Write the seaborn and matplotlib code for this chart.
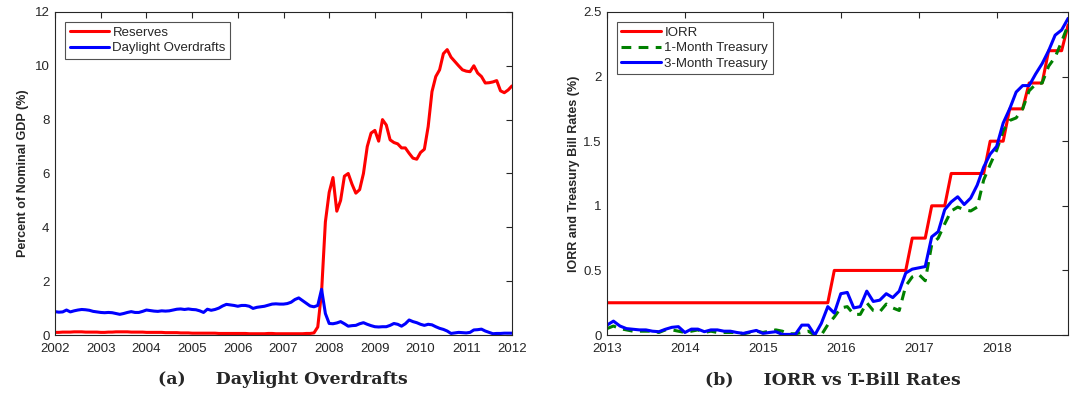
import numpy as np
import pandas as pd
import matplotlib
matplotlib.use("Agg")
import matplotlib.pyplot as plt
import seaborn as sns

# ---- panel (a): monthly, Jan 2002 - Jan 2012, percent of nominal GDP ----
reserves = [
    0.10, 0.10, 0.11, 0.11, 0.11, 0.12, 0.12, 0.12, 0.11, 0.11, 0.11, 0.11,  # 2002
    0.10, 0.10, 0.11, 0.11, 0.12, 0.12, 0.12, 0.12, 0.11, 0.11, 0.11, 0.11,  # 2003
    0.10, 0.10, 0.10, 0.10, 0.10, 0.09, 0.09, 0.09, 0.09, 0.08, 0.08, 0.08,  # 2004
    0.07, 0.07, 0.07, 0.07, 0.07, 0.07, 0.07, 0.06, 0.06, 0.06, 0.06, 0.06,  # 2005
    0.06, 0.06, 0.06, 0.05, 0.05, 0.05, 0.05, 0.05, 0.06, 0.06, 0.05, 0.05,  # 2006
    0.05, 0.05, 0.05, 0.05, 0.05, 0.05, 0.06, 0.06, 0.08, 0.30, 1.60, 4.20,  # 2007
    5.30, 5.85, 4.60, 5.00, 5.90, 6.00, 5.60, 5.27, 5.40, 6.00, 7.00, 7.50,  # 2008
    7.60, 7.20, 8.00, 7.80, 7.25, 7.15, 7.10, 6.95, 6.95, 6.75, 6.57, 6.53,  # 2009
    6.78, 6.90, 7.74, 9.04, 9.60, 9.85, 10.45, 10.60, 10.32, 10.16, 10.00, 9.85,  # 2010
    9.80, 9.78, 10.00, 9.73, 9.60, 9.36, 9.37, 9.40, 9.45, 9.07, 9.00, 9.10,  # 2011
    9.25,                                                                    # 2012
]
overdrafts = [
    0.87, 0.85, 0.86, 0.93, 0.86, 0.90, 0.93, 0.95, 0.94, 0.92, 0.88, 0.86,
    0.84, 0.83, 0.84, 0.83, 0.80, 0.77, 0.80, 0.84, 0.87, 0.84, 0.84, 0.88,
    0.93, 0.91, 0.89, 0.88, 0.90, 0.89, 0.90, 0.93, 0.96, 0.97, 0.95, 0.97,
    0.95, 0.94, 0.90, 0.84, 0.96, 0.92, 0.95, 1.00, 1.08, 1.14, 1.12, 1.10,
    1.07, 1.10, 1.10, 1.07, 0.99, 1.03, 1.05, 1.07, 1.11, 1.15, 1.16, 1.15,
    1.15, 1.17, 1.22, 1.32, 1.38, 1.28, 1.18, 1.08, 1.05, 1.10, 1.70, 0.80,
    0.43, 0.42, 0.45, 0.50, 0.42, 0.33, 0.35, 0.36, 0.42, 0.46, 0.40, 0.35,
    0.31, 0.30, 0.31, 0.31, 0.36, 0.43, 0.40, 0.33, 0.42, 0.56, 0.50, 0.46,
    0.40, 0.36, 0.40, 0.38, 0.31, 0.25, 0.21, 0.15, 0.06, 0.08, 0.10, 0.09,
    0.08, 0.10, 0.19, 0.20, 0.22, 0.15, 0.10, 0.05, 0.06, 0.06, 0.07, 0.07,
    0.07,
]

# ---- panel (b): monthly, Jan 2013 - Dec 2018, percent ----
iorr = (
    [0.25] * 12 + [0.25] * 12 + [0.25] * 11 + [0.50]
    + [0.50] * 11 + [0.75]
    + [0.75, 0.75, 1.00, 1.00, 1.00, 1.25, 1.25, 1.25, 1.25, 1.25, 1.25, 1.50]
    + [1.50, 1.50, 1.75, 1.75, 1.75, 1.95, 1.95, 1.95, 2.20, 2.20, 2.20, 2.40]
)
tbill_1m = [
    0.05, 0.07, 0.05, 0.04, 0.03, 0.03, 0.03, 0.03, 0.02, 0.04, 0.04, 0.03,
    0.02, 0.03, 0.04, 0.02, 0.03, 0.02, 0.02, 0.02, 0.02, 0.01, 0.02, 0.03,
    0.02, 0.03, 0.04, 0.03, 0.01, 0.01, 0.02, 0.03, 0.00, 0.00, 0.08, 0.14,
    0.21, 0.22, 0.16, 0.16, 0.25, 0.19, 0.18, 0.24, 0.21, 0.19, 0.38, 0.45,
    0.47, 0.42, 0.70, 0.75, 0.86, 0.96, 0.99, 0.97, 0.96, 0.99, 1.20, 1.32,
    1.43, 1.58, 1.66, 1.68, 1.75, 1.89, 1.94, 1.95, 2.08, 2.15, 2.27, 2.40,
]
tbill_3m = [
    0.077, 0.108, 0.07, 0.05, 0.045, 0.04, 0.04, 0.03, 0.026, 0.045, 0.06, 0.065,
    0.02, 0.046, 0.046, 0.026, 0.04, 0.04, 0.03, 0.03, 0.02, 0.013, 0.025, 0.036,
    0.013, 0.02, 0.026, 0.005, 0.005, 0.005, 0.077, 0.077, 0.0, 0.09, 0.22, 0.17,
    0.32, 0.33, 0.21, 0.22, 0.34, 0.26, 0.27, 0.32, 0.29, 0.34, 0.48, 0.51,
    0.52, 0.53, 0.76, 0.80, 0.97, 1.03, 1.07, 1.01, 1.06, 1.16, 1.30, 1.40,
    1.46, 1.64, 1.75, 1.88, 1.93, 1.93, 2.02, 2.10, 2.20, 2.32, 2.36, 2.45,
]


def decimal_years(start, n):
    d = pd.date_range(start, periods=n, freq="MS")
    return d.year + (d.month - 1) / 12


df_a = pd.DataFrame({"t": decimal_years("2002-01-01", len(reserves)),
                     "Reserves": reserves,
                     "Daylight Overdrafts": overdrafts})
df_b = pd.DataFrame({"t": decimal_years("2013-01-01", len(iorr)),
                     "IORR": iorr,
                     "1-Month Treasury": tbill_1m,
                     "3-Month Treasury": tbill_3m})

sns.set_style("white")
plt.rcParams["font.family"] = ["Liberation Sans", "DejaVu Sans"]

fig = plt.figure(figsize=(10.8, 3.97), dpi=100)
ax1 = fig.add_axes([0.051, 0.156, 0.423, 0.814])
ax2 = fig.add_axes([0.562, 0.156, 0.427, 0.814])

lw = 2.2
sns.lineplot(data=df_a, x="t", y="Reserves", color="#ff0000", lw=lw,
             label="Reserves", ax=ax1)
sns.lineplot(data=df_a, x="t", y="Daylight Overdrafts", color="#0000ff", lw=lw,
             label="Daylight Overdrafts", ax=ax1)

sns.lineplot(data=df_b, x="t", y="IORR", color="#ff0000", lw=lw,
             label="IORR", ax=ax2)
sns.lineplot(data=df_b, x="t", y="1-Month Treasury", color="#008000", lw=lw,
             linestyle=(0, (3.2, 2.4)), label="1-Month Treasury", ax=ax2)
sns.lineplot(data=df_b, x="t", y="3-Month Treasury", color="#0000ff", lw=lw,
             label="3-Month Treasury", ax=ax2)

ax1.set_xlim(2002, 2012)
ax1.set_ylim(0, 12)
ax1.set_xticks(range(2002, 2013))
ax1.set_yticks(range(0, 13, 2))
ax1.set_ylabel("Percent of Nominal GDP (%)", fontweight="bold", fontsize=9,
               labelpad=4)

ax2.set_xlim(2013, 2018 + 11 / 12)
ax2.set_ylim(0, 2.5)
ax2.set_xticks(range(2013, 2019))
ax2.set_yticks([0, 0.5, 1, 1.5, 2, 2.5])
ax2.set_yticklabels(["0", "0.5", "1", "1.5", "2", "2.5"])
ax2.set_ylabel("IORR and Treasury Bill Rates (%)", fontweight="bold", fontsize=9,
               labelpad=2)

for ax in (ax1, ax2):
    ax.set_xlabel("")
    ax.xaxis.set_major_formatter(plt.FuncFormatter(lambda v, p: f"{int(round(v))}"))
    ax.tick_params(direction="in", length=4, width=0.8, labelsize=9.5,
                   colors="#262626", top=True, right=True)
    ax.tick_params(axis="x", pad=6)
    ax.tick_params(axis="y", pad=4)
    for s in ax.spines.values():
        s.set_color("#262626")
        s.set_linewidth(0.8)
    leg = ax.legend(loc="upper left", frameon=True, fancybox=False,
                    handlelength=3.0, handletextpad=0.25, borderpad=0.35,
                    labelspacing=0.25, fontsize=9.5, borderaxespad=0.75)
    leg.get_frame().set_edgecolor("#262626")
    leg.get_frame().set_linewidth(0.8)

cap_font = dict(family=["DejaVu Serif"], fontweight="bold",
                fontsize=12.5, ha="center", va="center")
fig.text(0.262, 0.043, "(a)     Daylight Overdrafts", **cap_font)
fig.text(0.771, 0.043, "(b)     IORR vs T-Bill Rates", **cap_font)

fig.savefig("out.png", dpi=100)
